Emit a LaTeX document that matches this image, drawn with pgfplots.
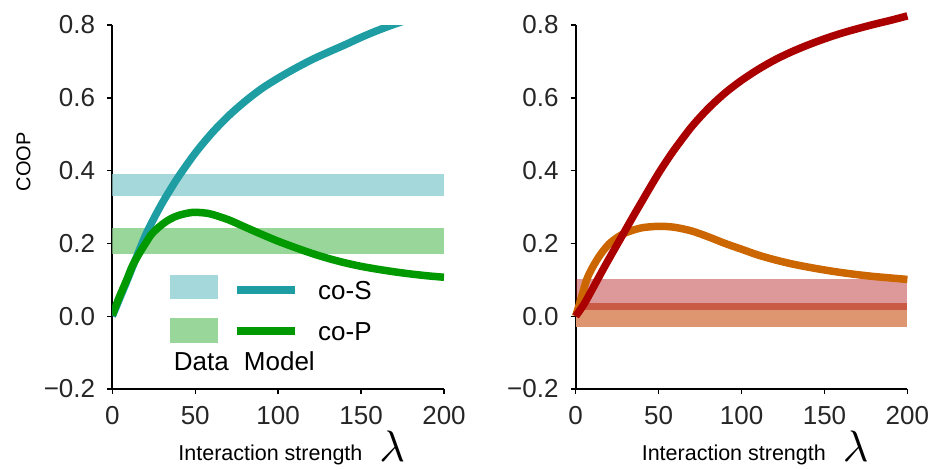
\documentclass[border=0pt]{standalone}
\usepackage{fontspec}
\setmainfont{Liberation Sans}
\usepackage{pgfplots}
\pgfplotsset{compat=1.18}
\definecolor{cS}{RGB}{30,158,163}
\definecolor{cP}{RGB}{0,153,0}
\definecolor{cR}{RGB}{170,0,0}
\definecolor{cO}{RGB}{204,102,0}
\definecolor{bO}{RGB}{222,150,112}
\definecolor{tgray}{RGB}{38,38,38}
\pgfplotsset{
  myaxis/.style={
    scale only axis, width=331.7pt, height=364pt,
    xmin=0, xmax=200, ymin=-0.2, ymax=0.8,
    axis lines=left, axis line style={-, line width=1.6pt, black},
    tick align=outside, major tick length=5pt, tick style={line width=1.4pt, black},
    xtick={0,50,100,150,200}, xticklabels={0,50,100,150,200},
    ytick={-0.2,0,0.2,0.4,0.6,0.8}, yticklabels={−0.2,0.0,0.2,0.4,0.6,0.8},
    tick label style={font=\fontsize{26}{26}\selectfont, text=tgray, inner sep=0pt},
    xticklabel style={anchor=north, yshift=-12pt},
    yticklabel style={anchor=east, xshift=-12pt},
    xlabel={{\fontsize{21.5}{22}\selectfont Interaction strength}\hspace{17pt}\raisebox{-1.5pt}{\scalebox{4.4}{$\lambda$}}},
    xlabel style={at={(axis description cs:0.541,0)}, anchor=base, yshift=-71pt, inner sep=0pt},
    every axis plot/.append style={line width=7.5pt, line cap=butt},
  }
}
\begin{document}
\begin{tikzpicture}
\useasboundingbox (-112.3pt,-80pt) rectangle (831.7pt,389pt);
\begin{axis}[myaxis, at={(0pt,0pt)}, anchor=south west,
  ylabel={COOP},
  ylabel style={at={(axis description cs:-0.268,0.624)}, anchor=center, font=\fontsize{20}{20}\selectfont},
  legend style={draw=none, fill=none, inner sep=0pt, row sep=0pt, column sep=0pt,
    at={(axis description cs:0.174,0.3275)}, anchor=north west,
    nodes={inner sep=0pt, text depth=0pt, font=\fontsize{26}{26}\selectfont, text=black}},
  legend cell align=left,
]
\addplot[draw=none, fill=cS!40!white, forget plot, line width=0pt] coordinates {(0,0.329) (200,0.329) (200,0.391) (0,0.391)} -- cycle;
\addplot[draw=none, fill=cP!40!white, forget plot, line width=0pt] coordinates {(0,0.171) (200,0.171) (200,0.242) (0,0.242)} -- cycle;
\addplot[cS, smooth, forget plot] coordinates {
(0,0) (5,0.055) (10,0.11) (15,0.167) (20,0.222) (25,0.268) (30,0.31) (35,0.348) (40,0.384) (50,0.448) (60,0.503) (70,0.55) (80,0.59) (90,0.625) (100,0.654) (110,0.68) (120,0.704) (130,0.725) (140,0.745) (150,0.766) (160,0.785) (170,0.802) (180,0.817) (190,0.829) (200,0.84)};
\addplot[cP, smooth, forget plot] coordinates {
(0,0.003) (4,0.05) (8.7,0.1) (12,0.137) (15.7,0.168) (20,0.2) (24,0.227) (30,0.252) (35,0.267) (40,0.277) (48,0.285) (55,0.284) (60,0.28) (70,0.265) (80,0.245) (90,0.225) (100,0.206) (110,0.189) (120,0.173) (130,0.159) (140,0.147) (150,0.137) (160,0.129) (170,0.122) (180,0.116) (190,0.111) (200,0.107)};
\addlegendimage{legend image code/.code={
  \path[draw=none, fill=none] (0pt,-20.5pt) rectangle (148pt,20.5pt);
  \fill[cS!40!white, draw=none, overlay] (0pt,-8.7pt) rectangle (48pt,15.3pt);
  \draw[cS, line width=7.5pt, overlay] (67pt,0.6pt) -- (125pt,0.6pt);
}}
\addlegendentry{co-S}
\addlegendimage{legend image code/.code={
  \path[draw=none, fill=none] (0pt,-20.5pt) rectangle (148pt,20.5pt);
  \fill[cP!40!white, draw=none, overlay] (0pt,-11.7pt) rectangle (48pt,13.3pt);
  \draw[cP, line width=8pt, overlay] (67pt,0.3pt) -- (125pt,0.3pt);
}}
\addlegendentry{co-P}
\addlegendimage{legend image code/.code={
  \path[draw=none, fill=none] (0pt,-10pt) rectangle (148pt,10pt);
  \node[overlay, draw=none, anchor=base west, inner sep=0pt, text=black, font=\fontsize{26}{26}\selectfont] at (0pt,-8.9pt) {Data};
  \node[overlay, draw=none, anchor=base west, inner sep=0pt, text=black, font=\fontsize{26}{26}\selectfont] at (70pt,-8.9pt) {Model};
}}
\addlegendentry{}
\end{axis}
\begin{axis}[myaxis, at={(463.4pt,0pt)}, anchor=south west, clip=false]
\addplot[draw=none, fill=bO, line width=0pt] coordinates {(0,-0.031) (200,-0.031) (200,0.037) (0,0.037)} -- cycle;
\addplot[draw=none, fill=cR, fill opacity=0.4, line width=0pt] coordinates {(0,0.017) (200,0.017) (200,0.1025) (0,0.1025)} -- cycle;
\addplot[cO, smooth] coordinates {
(0,0) (3,0.045) (6.6,0.1) (10,0.133) (14.7,0.168) (20,0.198) (25,0.216) (30,0.229) (35,0.237) (40,0.243) (46,0.246) (52,0.247) (60,0.244) (70,0.234) (80,0.218) (90,0.2) (100,0.184) (110,0.168) (120,0.155) (130,0.144) (140,0.135) (150,0.127) (160,0.12) (170,0.114) (180,0.109) (190,0.105) (200,0.101)};
\addplot[cR, smooth] coordinates {
(0,0) (5,0.033) (10,0.074) (15,0.116) (20,0.157) (25,0.197) (30,0.237) (35,0.277) (40,0.316) (45,0.355) (50,0.393) (55,0.428) (60,0.461) (70,0.521) (80,0.571) (90,0.613) (100,0.648) (110,0.678) (120,0.704) (130,0.726) (140,0.745) (150,0.762) (160,0.777) (170,0.79) (180,0.802) (190,0.813) (200,0.825)};
\end{axis}
\end{tikzpicture}
\end{document}
